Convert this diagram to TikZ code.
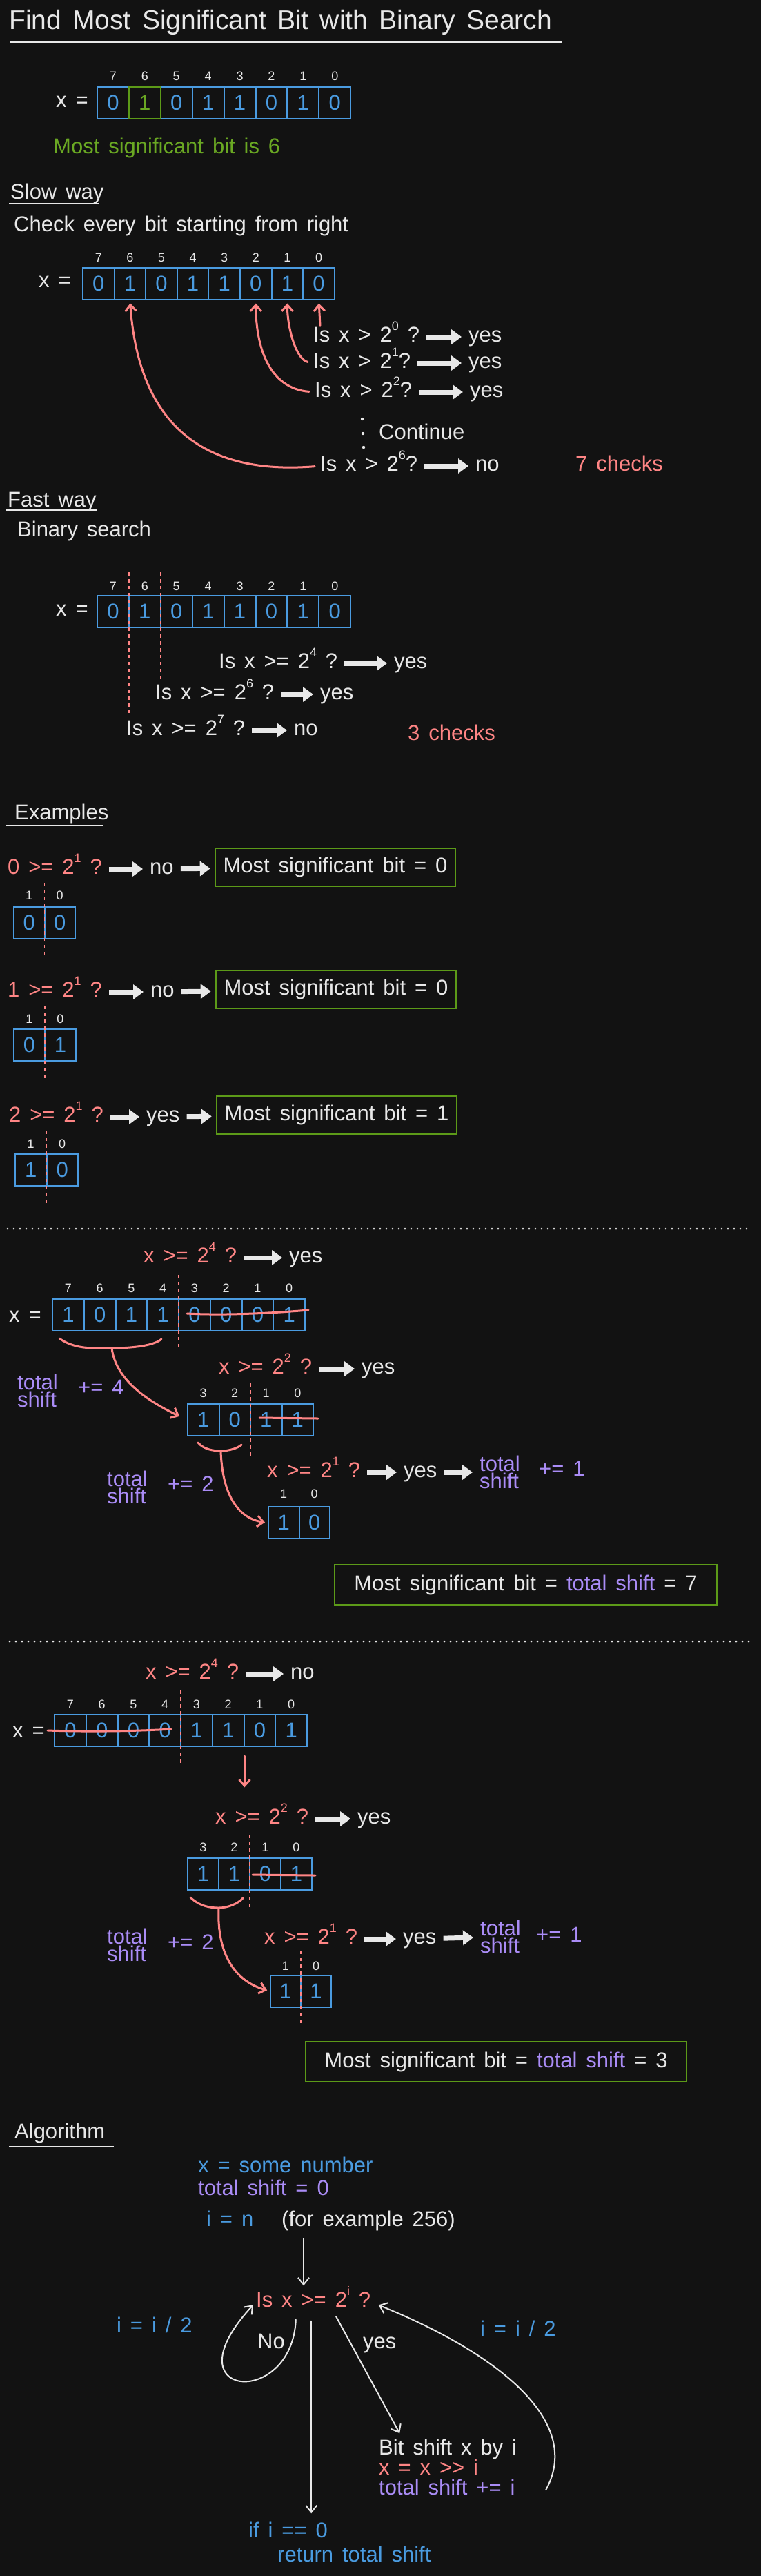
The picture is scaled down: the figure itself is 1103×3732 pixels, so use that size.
\documentclass[tikz,border=0pt]{standalone}
\usepackage{fontspec}
\setmainfont{Liberation Sans}[WordSpace=1.5]
\usetikzlibrary{arrows.meta}
\definecolor{bgc}{HTML}{121212}
\definecolor{fg}{HTML}{E8E8E8}
\definecolor{bl}{HTML}{4A9BE0}
\definecolor{rd}{HTML}{FF8585}
\definecolor{gr}{HTML}{5C9A18}
\definecolor{grt}{HTML}{6AA823}
\definecolor{pu}{HTML}{AA8CF6}
\newcommand\pw[1]{\raisebox{0.55em}{\fontsize{18}{18}\selectfont #1}}
\newcommand\bitrow[5]{\foreach \bv [count=\kk from 0] in {#5} {\node[cell,minimum width=#4pt] (#1\kk) at ({#2+#4*(\kk+0.5)},#3) {\bv};}}
\newcommand\labrow[5]{\foreach \bv [count=\kk from 0] in {#5} {\node[lbl] (#1\kk) at ({#2+#4*(\kk+0.5)},#3) {\bv};}}
\begin{document}
\begin{tikzpicture}[x=1pt,y=-1pt,
  txt/.style={inner sep=0pt,anchor=west,text=fg,font=\fontsize{31}{36}\selectfont,text height=23pt,text depth=8pt},
  ml/.style={inner sep=0pt,anchor=west,text=pu,font=\fontsize{31}{25}\selectfont,align=left},
  lbl/.style={inner sep=0pt,text=fg,font=\fontsize{18}{20}\selectfont},
  cell/.style={draw=bl,line width=2pt,text=bl,inner sep=0pt,minimum height=46pt,font=\fontsize{31}{32}\selectfont},
  gbox/.style={draw=gr,line width=2.5pt,text=fg,font=\fontsize{31}{36}\selectfont,inner sep=0pt},
  fat/.style={draw=fg,line width=7pt,-{Triangle[length=15pt,width=21pt]},shorten <=10pt,shorten >=10pt},
  rarr/.style={draw=rd,line width=3pt,line cap=round,-{Straight Barb[length=9pt,width=16pt]}},
  warr/.style={draw=fg,line width=2pt,line cap=round,-{Straight Barb[length=10pt,width=16pt]}},
  rline/.style={draw=rd,line width=3pt,line cap=round},
  dsh/.style={draw=rd,line width=1.5pt,dash pattern=on 5pt off 5pt},
  sep/.style={draw=fg,line width=3pt,line cap=round,dash pattern=on 0pt off 9pt},
  uline/.style={draw=fg,line width=2.5pt}]
\useasboundingbox (0,0) rectangle (1103,3732);
\fill[bgc] (0,0) rectangle (1103,3732);

% ---------- title
\node[txt,font=\fontsize{39}{44}\selectfont,text height=29pt,text depth=10pt] (title) at (13,33) {Find Most Significant Bit with Binary Search};
\draw[uline,line width=3pt] (15,61) -- (815,61);

% ---------- top row
\labrow{tl}{141}{110}{45.9}{7,6,5,4,3,2,1,0}
\node[cell,minimum width=45.9pt] (ta0) at (163.95,149) {0};
\node[cell,minimum width=45.9pt] (ta2) at (255.75,149) {0};
\node[cell,minimum width=45.9pt] (ta3) at (301.65,149) {1};
\node[cell,minimum width=45.9pt] (ta4) at (347.55,149) {1};
\node[cell,minimum width=45.9pt] (ta5) at (393.45,149) {0};
\node[cell,minimum width=45.9pt] (ta6) at (439.35,149) {1};
\node[cell,minimum width=45.9pt] (ta7) at (485.25,149) {0};
\node[cell,minimum width=45.9pt,draw=gr,text=grt] (ta1) at (209.85,149) {1};
\node[txt] (tx) at (81,148) {x =};
\node[txt,text=grt] (msb) at (77,215) {Most significant bit is 6};

% ---------- slow way
\node[txt] (hslow) at (15,281) {Slow way};
\draw[uline] (13,295) -- (144,295);
\node[txt] (chk) at (20,328) {Check every bit starting from right};
\labrow{sl}{120}{373}{45.6}{7,6,5,4,3,2,1,0}
\bitrow{sa}{120}{410.5}{45.6}{0,1,0,1,1,0,1,0}
\node[txt] (sx) at (56,409) {x =};

\node[txt] (s0) at (454,488) {Is x > 2\pw{0} ?};
\node[txt] (y0) at (679,488) {yes};
\node[txt] (s1) at (454,526) {Is x > 2\pw{1}?};
\node[txt] (y1) at (679,526) {yes};
\node[txt] (s2) at (456,568) {Is x > 2\pw{2}?};
\node[txt] (y2) at (681,568) {yes};
\node[txt] (cont) at (549,629) {Continue};
\node[txt] (s6) at (464,675) {Is x > 2\pw{6}?};
\node[txt] (n6) at (689,675) {no};
\node[txt,text=rd] (c7) at (834,675) {7 checks};
\fill[fg] (525,607) circle (2.2pt);
\fill[fg] (526,628) circle (2.2pt);
\fill[fg] (527,648) circle (2.2pt);
\draw[fat] (s0) -- (y0);
\draw[fat] (s1) -- (y1);
\draw[fat] (s2) -- (y2);
\draw[fat] (s6) -- (n6);
\draw[rarr,shorten >=5pt] ([xshift=10pt]s0.north west) -- (sa7.south);
\draw[rarr,shorten <=8pt,shorten >=5pt] (s1.west) .. controls +(-25,-5) and +(0,40) .. (sa6.south);
\draw[rarr,shorten <=8pt,shorten >=5pt] (s2.west) .. controls +(-65,-5) and +(0,70) .. (sa5.south);
\draw[rarr,shorten <=8pt,shorten >=5pt] (s6.west) .. controls (280,690) and (200,600) .. (sa1.south);

% ---------- fast way
\node[txt] (hfast) at (11,727) {Fast way};
\draw[uline] (9,739) -- (141,739);
\node[txt] (bsr) at (25,770) {Binary search};
\labrow{fl}{141}{849}{45.9}{7,6,5,4,3,2,1,0}
\bitrow{fa}{141}{886}{45.9}{0,1,0,1,1,0,1,0}
\node[txt] (fx) at (81,885) {x =};
\draw[dsh] (186.9,829) -- (186.9,1033);
\draw[dsh] (232.8,829) -- (232.8,985);
\draw[dsh] (324.6,829) -- (324.6,936);
\node[txt] (f4) at (317,961) {Is x >= 2\pw{4} ?};
\node[txt] (fy4) at (571,961) {yes};
\node[txt] (f6) at (225,1006) {Is x >= 2\pw{6} ?};
\node[txt] (fy6) at (464,1006) {yes};
\node[txt] (f7) at (183,1058) {Is x >= 2\pw{7} ?};
\node[txt] (fn7) at (426,1058) {no};
\node[txt,text=rd] (c3) at (591,1065) {3 checks};
\draw[fat] (f4) -- (fy4);
\draw[fat] (f6) -- (fy6);
\draw[fat] (f7) -- (fn7);

% ---------- examples
\node[txt] (hex) at (21,1180) {Examples};
\draw[uline] (9,1196) -- (149,1196);

\node[txt,text=rd] (e1q) at (11,1259) {0 >= 2\pw{1} ?};
\node[txt] (e1n) at (217,1259) {no};
\node[gbox,minimum width=348pt,minimum height=55pt] (e1b) at (486,1256.5) {Most significant bit = 0};
\draw[fat] (e1q) -- (e1n);
\draw[fat,shorten >=6pt] (e1n) -- (e1b);
\labrow{e1l}{20}{1297}{44.5}{1,0}
\bitrow{e1a}{20}{1336.5}{44.5}{0,0}
\draw[dsh] (64.5,1279) -- (64.5,1389);

\node[txt,text=rd] (e2q) at (11,1437) {1 >= 2\pw{1} ?};
\node[txt] (e2n) at (218,1437) {no};
\node[gbox,minimum width=348pt,minimum height=55pt] (e2b) at (487,1433.5) {Most significant bit = 0};
\draw[fat] (e2q) -- (e2n);
\draw[fat,shorten >=6pt] (e2n) -- (e2b);
\labrow{e2l}{20}{1476}{45}{1,0}
\bitrow{e2a}{20}{1514}{45}{0,1}
\draw[dsh] (65,1457) -- (65,1565);

\node[txt,text=rd] (e3q) at (13,1618) {2 >= 2\pw{1} ?};
\node[txt] (e3y) at (212,1618) {yes};
\node[gbox,minimum width=348pt,minimum height=55pt] (e3b) at (488,1615.5) {Most significant bit = 1};
\draw[fat] (e3q) -- (e3y);
\draw[fat,shorten >=6pt] (e3y) -- (e3b);
\labrow{e3l}{22}{1657}{45.5}{1,0}
\bitrow{e3a}{22}{1695}{45.5}{1,0}
\draw[dsh] (67.5,1638) -- (67.5,1747);

\draw[sep] (11,1780) -- (1087,1780);

% ---------- big example A
\node[txt,text=rd] (aq4) at (208,1822) {x >= 2\pw{4} ?};
\node[txt] (ay4) at (419,1822) {yes};
\draw[fat] (aq4) -- (ay4);
\labrow{Al}{76}{1866}{45.75}{7,6,5,4,3,2,1,0}
\bitrow{Aa}{76}{1904.5}{45.75}{1,0,1,1,0,0,0,1}
\node[txt] (Ax) at (13,1908) {x =};
\draw[dsh] (259,1847) -- (259,1954);
\draw[rline] (271,1903) .. controls (330,1906) and (400,1902) .. (447,1898);
\draw[rline] (86,1939) .. controls (110,1956) and (140,1953) .. (162,1953) .. controls (190,1953) and (222,1950) .. (234,1940);
\coordinate (Ab) at (162,1953);
\node[ml] (Ats) at (25,2015) {total\\shift};
\node[txt,text=pu] (Ape) at (113,2013) {+= 4};

\node[txt,text=rd] (aq2) at (317,1983) {x >= 2\pw{2} ?};
\node[txt] (ay2) at (524,1983) {yes};
\draw[fat] (aq2) -- (ay2);
\labrow{Bl}{272}{2018}{45.5}{3,2,1,0}
\bitrow{Ba}{272}{2057}{45.5}{1,0,1,1}
\draw[rarr,shorten >=12pt] (Ab) .. controls (168,2000) and (215,2030) .. (Ba0.west);
\draw[dsh] (363,2004) -- (363,2113);
\draw[rline] (376,2054) -- (461,2055);
\draw[rline] (287,2090) .. controls (295,2100) and (310,2102) .. (320,2102) .. controls (332,2102) and (345,2098) .. (350,2093);
\coordinate (Bb) at (320,2102);
\node[ml] (Bts) at (155,2155) {total\\shift};
\node[txt,text=pu] (Bpe) at (243,2153) {+= 2};

\node[txt,text=rd] (aq1) at (387,2133) {x >= 2\pw{1} ?};
\node[txt] (ay1) at (585,2133) {yes};
\node[ml] (ats) at (695,2133) {total\\shift};
\node[txt,text=pu] (ape) at (781,2131) {+= 1};
\draw[fat] (aq1) -- (ay1);
\draw[fat] (ay1) -- (ats);
\labrow{Cl}{389}{2164}{44.5}{1,0}
\bitrow{Ca}{389}{2206}{44.5}{1,0}
\draw[rarr,shorten >=4pt] (Bb) .. controls (322,2165) and (345,2200) .. (Ca0.west);
\draw[dsh] (433.5,2149) -- (433.5,2257);
\node[gbox,minimum width=554pt,minimum height=58pt] (Ab7) at (762,2296) {Most significant bit = {\color{pu}total shift} = 7};

\draw[sep] (14,2378) -- (1090,2378);

% ---------- big example D
\node[txt,text=rd] (dq4) at (211,2425) {x >= 2\pw{4} ?};
\node[txt] (dn4) at (421,2425) {no};
\draw[fat] (dq4) -- (dn4);
\labrow{Dl}{79}{2469}{45.75}{7,6,5,4,3,2,1,0}
\bitrow{Da}{79}{2507}{45.75}{0,0,0,0,1,1,0,1}
\node[txt] (Dx) at (18,2510) {x =};
\draw[dsh] (262,2449) -- (262,2556);
\draw[rline] (69,2507) .. controls (130,2509) and (200,2508) .. (248,2505);

\node[txt,text=rd] (eq2) at (312,2635) {x >= 2\pw{2} ?};
\node[txt] (ey2) at (518,2635) {yes};
\draw[fat] (eq2) -- (ey2);
\draw[rarr,shorten <=13pt,shorten >=30pt] (Da5.south east) -- (Da5.south east |- eq2.north);
\labrow{El}{272}{2676}{45}{3,2,1,0}
\bitrow{Ea}{272}{2714.5}{45}{1,1,0,1}
\draw[dsh] (362,2658) -- (362,2765);
\draw[rline] (366,2716) -- (457,2717);
\draw[rline] (276,2749) .. controls (290,2762) and (305,2764) .. (317,2764) .. controls (330,2764) and (345,2758) .. (352,2750);
\coordinate (Eb) at (317,2764);
\node[ml] (Ets) at (155,2818) {total\\shift};
\node[txt,text=pu] (Epe) at (243,2817) {+= 2};

\node[txt,text=rd] (fq1) at (383,2809) {x >= 2\pw{1} ?};
\node[txt] (fy1) at (584,2809) {yes};
\node[ml] (fts) at (696,2806) {total\\shift};
\node[txt,text=pu] (fpe) at (777,2806) {+= 1};
\draw[fat] (fq1) -- (fy1);
\draw[fat] (fy1) -- (fts);
\labrow{Fl}{392}{2848}{44}{1,0}
\bitrow{Fa}{392}{2884.5}{44}{1,1}
\draw[rarr,shorten >=4pt] (Eb) .. controls (314,2830) and (340,2870) .. (Fa0.west);
\draw[dsh] (436,2826) -- (436,2932);
\node[gbox,minimum width=552pt,minimum height=58pt] (Fb3) at (719,2987) {Most significant bit = {\color{pu}total shift} = 3};

% ---------- algorithm
\node[txt] (halg) at (21,3091) {Algorithm};
\draw[uline] (13,3110) -- (165,3110);
\node[txt,text=bl] (i1) at (287,3140) {x = some number};
\node[txt,text=pu] (i2) at (287,3173) {total shift = 0};
\node[txt,text=bl] (i3) at (299,3218) {i = n};
\node[txt] (i4) at (408,3218) {(for example 256)};
\coordinate (astart) at (440,3243);
\node[txt,text=rd] (alg) at (371,3335) {Is x >= 2\pw{i} ?};
\draw[warr,shorten >=8pt] (astart) -- (astart |- alg.north);
\draw[warr,shorten <=10pt,shorten >=6pt] ([xshift=-25pt]alg.south) .. controls +(-6,140) and +(-130,140) .. (alg.west);
\node[txt] (no) at (373,3395) {No};
\node[txt,text=bl] (il) at (169,3372) {i = i / 2};
\node[txt,text=bl] (ifn) at (360,3669) {if i == 0};
\node[txt,text=bl] (ret) at (402,3704) {return total shift};
\draw[warr,shorten <=12pt,shorten >=12pt] ([xshift=-3pt]alg.south) -- ([xshift=-3pt]alg.south |- ifn.north);
\node[inner sep=0pt,anchor=north west,text=fg,font=\fontsize{31}{29}\selectfont,align=left] (bs) at (549,3534) {Bit shift x by i\\{\color{rd}x = x >{}> i}\\{\color{pu}total shift += i}};
\node[txt] (yl) at (526,3395) {yes};
\draw[warr,shorten <=6pt,shorten >=10pt] ([xshift=30pt]alg.south) -- ([xshift=35pt]bs.north west);
\draw[warr,shorten >=12pt] ([xshift=42pt,yshift=8pt]bs.south east) .. controls (850,3500) and (700,3400) .. (alg.east);
\node[txt,text=bl] (ir) at (696,3377) {i = i / 2};
\end{tikzpicture}
\end{document}
